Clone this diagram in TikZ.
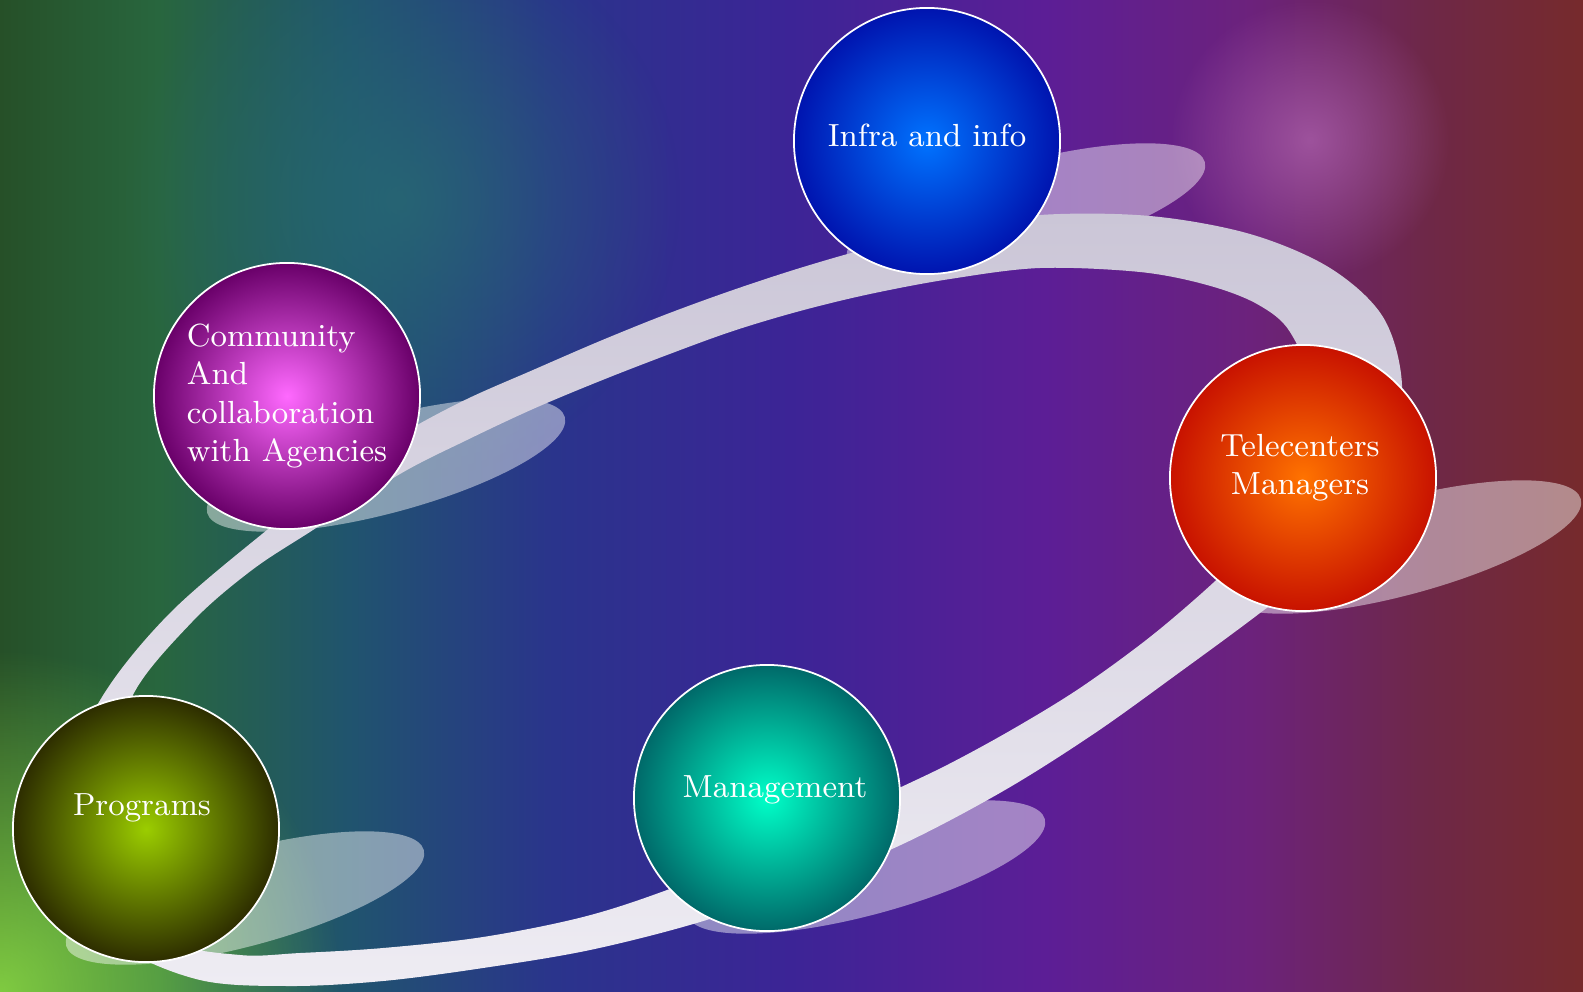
\documentclass[tikz,border=0pt]{standalone}
\usepackage{tikz}
\usetikzlibrary{positioning, fadings}

% background colours, left to right
\definecolor{bgA}{RGB}{38,80,40}
\definecolor{bgB}{RGB}{40,102,62}
\definecolor{bgC}{RGB}{32,84,110}
\definecolor{bgD}{RGB}{42,52,140}
\definecolor{bgE}{RGB}{60,36,150}
\definecolor{bgF}{RGB}{92,30,150}
\definecolor{bgG}{RGB}{108,34,124}
\definecolor{bgH}{RGB}{110,40,72}
\definecolor{bgI}{RGB}{118,42,44}
\definecolor{glowteal}{RGB}{40,110,115}
\definecolor{ringtop}{RGB}{203,198,215}
\definecolor{ringbot}{RGB}{238,236,243}
% ball colours, centre and rim
\definecolor{infraIn}{RGB}{0,115,255}
\definecolor{infraOut}{RGB}{0,20,175}
\definecolor{commIn}{RGB}{255,105,255}
\definecolor{commOut}{RGB}{105,0,105}
\definecolor{progIn}{RGB}{155,205,0}
\definecolor{progOut}{RGB}{45,45,0}
\definecolor{teleIn}{RGB}{255,115,0}
\definecolor{teleOut}{RGB}{200,18,0}
\definecolor{managIn}{RGB}{0,255,200}
\definecolor{managOut}{RGB}{0,105,105}
\pgfdeclarehorizontalshading{bgshade}{100bp}{color(0bp)=(bgA); color(25bp)=(bgA);
  color(30bp)=(bgB); color(36bp)=(bgC); color(42.5bp)=(bgD); color(50bp)=(bgE);
  color(58bp)=(bgF); color(64.5bp)=(bgG); color(70bp)=(bgH); color(75bp)=(bgI);
  color(100bp)=(bgI)}
\tikzfading[name=glowfade, inner color=transparent!30, outer color=transparent!100]

\tikzset{
sphere/.style 2 args={circle, minimum size=2.66cm, inner sep=0pt, draw=white!80, line width=0.5pt, inner color=#1, outer color=#2}, % shaded ball
spheretext/.style={text=white, font=\fontsize{9.1}{10.9}\selectfont, align=center}, % white words on the balls
shadowblob/.style={fill=white, fill opacity=0.45}, % pale oval behind each ball
ringband/.style={even odd rule, top color=ringtop, bottom color=ringbot}, % the tilted ring
}

\begin{document}
\begin{tikzpicture}[x=0.01cm, y=-0.01cm]
    \useasboundingbox (0,0) rectangle (1583,991);
    \shade[shading=bgshade] (0,0) rectangle (1583,991);
    \fill[green!50!yellow!70!white, path fading=glowfade] (0,991) circle[radius=3.4cm];
    \fill[glowteal, path fading=glowfade] (400,200) circle[radius=2.8cm];
    \fill[violet!60!white, path fading=glowfade] (1310,140) circle[radius=1.4cm];

    \coordinate (pinfra) at (927,141);
    \coordinate (pcomm) at (287,396);
    \coordinate (pprog) at (146,829);
    \coordinate (ptele) at (1303,478);
    \coordinate (pmanag) at (767,798);

    % shadows
    \foreach \p in {pinfra, pcomm, pprog, ptele, pmanag}
        \fill[shadowblob] ([shift={(99,69)}]\p) circle[x radius=1.85cm, y radius=0.48cm, rotate=15];

    % ring: outer edge, then inner edge
    \shade[ringband] plot[smooth cycle, tension=0.55] coordinates {
        (733,290) (800,268) (870,248) (950,230) (1040,215) (1150,216) (1250,234)
        (1330,268) (1383,317) (1402,385) (1390,460) (1340,550) (1260,613) (1180,672)
        (1095,733) (1005,790) (905,843) (800,887) (700,922) (590,950) (483,968)
        (383,981) (290,986) (200,980) (120,945) (70,880) (62,790) (102,697)
        (170,613) (267,530) (340,474) (405,432) (467,399) (533,370) (600,341) (667,314)}
      plot[smooth cycle, tension=0.55] coordinates {
        (733,331) (800,311) (870,294) (950,279) (1040,268) (1140,272) (1207,285)
        (1257,304) (1290,332) (1310,390) (1290,480) (1250,545) (1213,583) (1150,637)
        (1080,688) (1013,729) (947,765) (880,797) (780,845) (667,890) (583,917)
        (483,937) (383,948) (300,953) (240,955) (170,940) (130,880) (120,780)
        (132,697) (192,622) (252,570) (313,530) (400,474) (467,440) (533,409)
        (600,381) (667,355)};

    \node[sphere={infraIn}{infraOut},
          label={[spheretext, yshift=0.06cm]center:Infra and info}] (infra) at (pinfra) {};
    \node[sphere={commIn}{commOut},
          label={[spheretext, align=left]center:{Community\\And\\collaboration\\with Agencies}}] (community) at (pcomm) {};
    \node[sphere={progIn}{progOut},
          label={[spheretext, xshift=-0.04cm, yshift=0.21cm]center:Programs}] (programs) at (pprog) {};
    \node[sphere={teleIn}{teleOut},
          label={[spheretext, xshift=-0.03cm, yshift=0.10cm]center:{Telecenters\\Managers}}] (telecenters) at (ptele) {};
    \node[sphere={managIn}{managOut},
          label={[spheretext, xshift=0.08cm, yshift=0.08cm]center:Management}] (management) at (pmanag) {};
\end{tikzpicture}
\end{document}
